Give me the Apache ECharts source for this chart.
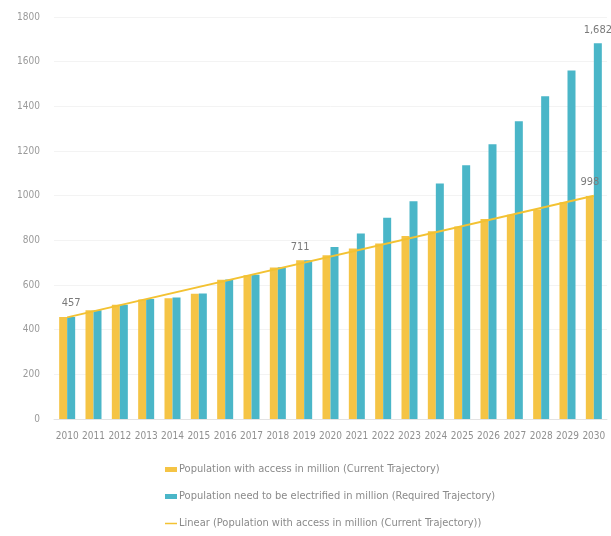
<!DOCTYPE html>
<html>
<head>
<meta charset="utf-8">
<script src="https://cdn.jsdelivr.net/npm/echarts@6/dist/echarts.min.js"></script>
<style>html,body{margin:0;padding:0;background:#fff;}#c{width:611px;height:536px;}</style>
</head>
<body>
<div id="c"></div>
<script>
var years = ['2010','2011','2012','2013','2014','2015','2016','2017','2018','2019','2020','2021','2022','2023','2024','2025','2026','2027','2028','2029','2030'];
var currentTrajectory = [457, 487, 512, 535, 541, 561, 624, 644, 678, 711, 733, 763, 786, 819, 841, 862, 895, 914, 938, 970, 998];
var requiredTrajectory = [457, 487, 512, 537, 544, 562, 625, 646, 680, 711, 770, 831, 901, 975, 1054, 1136, 1230, 1333, 1445, 1561, 1682];
var trendLine = [455, null, null, null, null, null, null, null, null, null, null, null, null, null, null, null, null, null, null, null, 1000];
var yTicks = [0, 200, 400, 600, 800, 1000, 1200, 1400, 1600, 1800];
var labelledCurrent = ['2019', '2030'];
var labelledRequired = ['2010', '2030'];
var seriesNames = ['Population with access in million (Current Trajectory)', 'Population need to be electrified in million (Required Trajectory)', 'Linear (Population with access in million (Current Trajectory))'];

var FONT = '"Liberation Sans Narrow", "DejaVu Sans Condensed", "Liberation Sans", sans-serif';
var chart = echarts.init(document.getElementById('c'));
function fmt(v){ return v >= 1000 ? String(v).replace(/(\d)(\d{3})$/, '$1,$2') : String(v); }
chart.setOption({
  animation: false,
  textStyle: { fontFamily: FONT },
  grid: { left: 54, right: 4, top: 17, bottom: 117 },
  legend: {
    orient: 'vertical', left: 160, top: 459, itemGap: 16,
    itemWidth: 12, itemHeight: 5,
    textStyle: { color: '#8a8a8a', fontSize: 11, fontFamily: FONT, padding: [0,0,0,-3] },
    data: [
      { name: seriesNames[0], icon: 'rect' },
      { name: seriesNames[1], icon: 'rect' },
      { name: seriesNames[2], icon: 'path://M0,0 H24 V3 H0 Z', itemStyle: { color: '#F3C232' } }
    ]
  },
  xAxis: {
    type: 'category', data: years,
    axisLine: { lineStyle: { color: '#e3e3e3' } },
    axisTick: { show: false },
    axisLabel: { color: '#909090', fontSize: 10, margin: 12, interval: 0, fontFamily: FONT }
  },
  yAxis: {
    type: 'value', min: yTicks[0], max: yTicks[yTicks.length - 1], interval: 200,
    axisLine: { show: false }, axisTick: { show: false },
    axisLabel: { color: '#9a9a9a', fontSize: 10, margin: 14, fontFamily: FONT, formatter: function(v){ return String(v); } },
    splitLine: { lineStyle: { color: '#f3f3f3' } }
  },
  series: [
    {
      name: seriesNames[0], type: 'bar', data: currentTrajectory,
      barWidth: 8, barGap: '0%',
      itemStyle: { color: '#F5C445' },
      label: {
        show: true, position: 'top', color: '#7a7a7a', fontSize: 11, distance: 8,
        formatter: function(p){ return labelledCurrent.indexOf(p.name) >= 0 ? fmt(p.value) : ''; }
      }
    },
    {
      name: seriesNames[1], type: 'bar', data: requiredTrajectory,
      barWidth: 8,
      itemStyle: { color: '#4AB6C8' },
      label: {
        show: true, position: 'top', color: '#7a7a7a', fontSize: 11, distance: 8,
        formatter: function(p){ return labelledRequired.indexOf(p.name) >= 0 ? fmt(p.value) : ''; }
      }
    },
    {
      name: seriesNames[2], type: 'line', data: trendLine, connectNulls: true,
      symbol: 'none', lineStyle: { color: '#F3C232', width: 2 },
      itemStyle: { color: '#F3C232' }, z: 5
    }
  ]
});
</script>
</body>
</html>
